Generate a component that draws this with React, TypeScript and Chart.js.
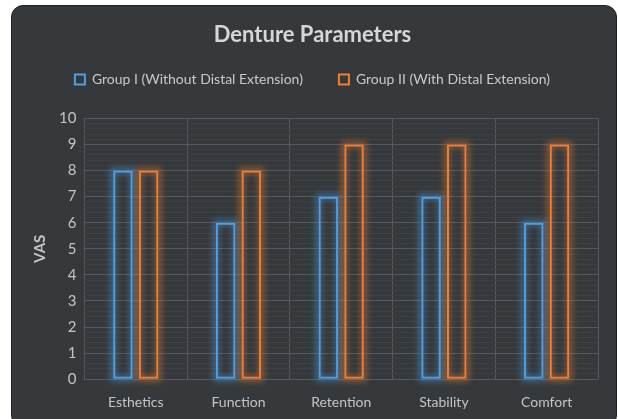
import React, { useEffect, useRef } from "react";
import { Chart, registerables } from "chart.js";

Chart.register(...registerables);

const categories = ["Esthetics", "Function", "Retention", "Stability", "Comfort"];
const groupI = [8, 6, 7, 7, 6];
const groupII = [8, 8, 9, 9, 9];
const seriesNames = ["Group I (Without Distal Extension)", "Group II (With Distal Extension)"];
const titleText = "Denture Parameters";
const yTitle = "VAS";

const BLUE = "#4f9fe3";
const ORANGE = "#f07f33";
const FONT = "Lato, 'Open Sans', sans-serif";

const glowPlugin = {
  id: "glow",
  beforeDatasetsDraw(chart: any) {
    const ctx = chart.ctx;
    chart.data.datasets.forEach((ds: any, i: number) => {
      const meta = chart.getDatasetMeta(i);
      ctx.save();
      ctx.filter = "blur(3px)";
      ctx.strokeStyle = ds.borderColor;
      ctx.globalAlpha = 0.55;
      ctx.lineWidth = 5;
      meta.data.forEach((el: any) => {
        const x0 = el.x - el.width / 2;
        const top = Math.min(el.y, el.base);
        const h = Math.abs(el.base - el.y);
        ctx.strokeRect(x0, top, el.width, h);
      });
      ctx.restore();
    });
  },
};

const legendSpacePlugin = {
  id: "legendSpace",
  beforeInit(chart: any) {
    const legend = chart.legend;
    if (!legend) return;
    const orig = legend.fit;
    legend.fit = function () {
      orig.call(this);
      this.height += 22;
    };
  },
};

export default function App() {
  const ref = useRef<HTMLCanvasElement | null>(null);
  useEffect(() => {
    if (!ref.current) return;
    const isMajor = (v: number) => Math.abs(v - Math.round(v)) < 1e-6;
    const chart = new Chart(ref.current, {
      type: "bar",
      data: {
        labels: categories,
        datasets: [
          {
            label: seriesNames[0],
            data: groupI,
            borderColor: BLUE,
            backgroundColor: "rgba(0,0,0,0)",
            borderWidth: 2,
            borderSkipped: false,
            categoryPercentage: 0.5,
            barPercentage: 0.76,
          },
          {
            label: seriesNames[1],
            data: groupII,
            borderColor: ORANGE,
            backgroundColor: "rgba(0,0,0,0)",
            borderWidth: 2,
            borderSkipped: false,
            categoryPercentage: 0.5,
            barPercentage: 0.76,
          },
        ],
      },
      plugins: [glowPlugin, legendSpacePlugin],
      options: {
        animation: false,
        responsive: false,
        maintainAspectRatio: false,
        layout: { padding: { left: 15, right: 18, top: 5, bottom: 0 } },
        plugins: {
          title: {
            display: true,
            text: titleText,
            color: "#d6d6d6",
            font: { family: FONT, size: 22, weight: "bold" },
            padding: { top: 11, bottom: -12 },
          },
          legend: {
            display: true,
            labels: {
              color: "#c9c9c9",
              font: { family: FONT, size: 14 },
              boxWidth: 10,
              boxHeight: 10,
              padding: 36,
            },
          },
          tooltip: { enabled: false },
        },
        scales: {
          x: {
            grid: { color: "#55595d", lineWidth: 1, drawTicks: false },
            border: { display: false },
            ticks: { color: "#c4c4c4", font: { family: FONT, size: 14 }, padding: 15 },
          },
          y: {
            min: 0,
            max: 10,
            ticks: {
              stepSize: 0.2,
              autoSkip: false,
              color: "#c4c4c4",
              font: { family: FONT, size: 15 },
              padding: 8,
              callback: (v: any) => (isMajor(Number(v)) ? String(Math.round(Number(v))) : ""),
            },
            grid: {
              drawTicks: false,
              color: (c: any) => (isMajor(c.tick.value) ? "#55595d" : "#3d4043"),
              lineWidth: 1,
            },
            border: { display: false },
            title: {
              display: true,
              text: yTitle,
              color: "#c4c4c4",
              font: { family: FONT, size: 15, weight: "bold" },
              padding: { bottom: 2 },
            },
          },
        },
      },
    });
    return () => chart.destroy();
  }, []);

  return (
    <div style={{ position: "fixed", left: 0, top: 0, width: 618, height: 419, background: "#ffffff", overflow: "hidden" }}>
      <div
        style={{
          position: "absolute",
          left: 11,
          top: 5,
          width: 604,
          height: 420,
          background: "#36393c",
          borderRadius: 12,
          border: "1px solid #1f2022",
          overflow: "hidden",
        }}
      >
        <canvas ref={ref} width={604} height={420} style={{ display: "block" }} />
      </div>
    </div>
  );
}
